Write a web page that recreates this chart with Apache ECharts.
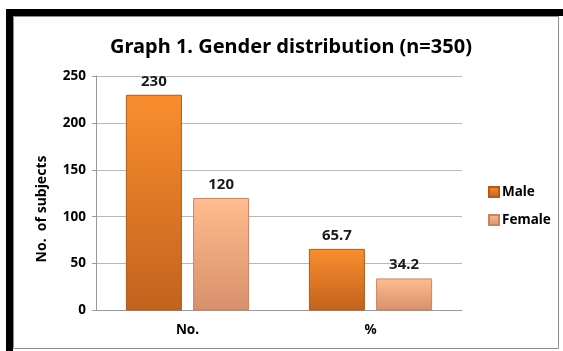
<!DOCTYPE html>
<html><head><meta charset="utf-8">
<script src="https://cdn.jsdelivr.net/npm/echarts@6/dist/echarts.min.js"></script>
<style>html,body{margin:0;padding:0;background:#fff}#c{width:563px;height:351px}</style>
</head><body><div id="c"></div>
<script>
const categories = ['No.', '%'];
const maleValues = [230, 65.7];
const femaleValues = [120, 34.2];
const seriesNames = ['Male', 'Female'];
const titleText = 'Graph 1. Gender distribution (n=350)';
const yAxisName = 'No.  of subjects';

const FONT = 'Noto Sans';
const chart = echarts.init(document.getElementById('c'), null, {renderer: 'canvas'});
const maleGrad = new echarts.graphic.LinearGradient(0,0,0,1,[{offset:0,color:'#FA8E2E'},{offset:1,color:'#C2621D'}]);
const femaleGrad = new echarts.graphic.LinearGradient(0,0,0,1,[{offset:0,color:'#FFBC8E'},{offset:1,color:'#D8906C'}]);
const labelStyle = {show:true, position:'top', distance:6, fontFamily:FONT, fontWeight:'bold', fontSize:15, color:'#1a1a1a'};
chart.setOption({
  animation:false,
  graphic:[
    {type:'rect', shape:{x:6,y:9,width:557,height:7}, style:{fill:'#000'}, z:-10},
    {type:'rect', shape:{x:6,y:9,width:7,height:342}, style:{fill:'#000'}, z:-10},
    {type:'rect', shape:{x:13.5,y:16.5,width:545,height:332}, style:{fill:'#fff', stroke:'#8c8c8c', lineWidth:1}, z:-9},
    {type:'text', x:42, y:209, rotation:Math.PI/2, style:{text:yAxisName, fontFamily:FONT, fontWeight:'bold', fontSize:14, fill:'#000', align:'center', verticalAlign:'middle'}}
  ],
  title:{text:titleText, left:286, top:32, textAlign:'center', textStyle:{fontFamily:FONT, fontWeight:'bold', fontSize:20, color:'#000'}},
  legend:{orient:'vertical', left:483, top:180, itemWidth:10, itemHeight:10, itemGap:14, icon:'rect',
    textStyle:{fontFamily:FONT, fontWeight:'bold', fontSize:13.5, color:'#000', padding:[0,0,0,-2]}, data:seriesNames},
  grid:{left:96, right:101, top:76, bottom:40.5, containLabel:false},
  xAxis:{type:'category', data:categories, axisLine:{lineStyle:{color:'#999'}}, axisTick:{show:false},
    axisLabel:{fontFamily:FONT, fontWeight:'bold', fontSize:13.5, color:'#000', margin:13}},
  yAxis:{type:'value', min:0, max:250, interval:50,
    axisLine:{show:true, lineStyle:{color:'#999'}}, axisTick:{show:true, length:4, lineStyle:{color:'#999'}},
    splitLine:{lineStyle:{color:'#b8b8b8'}},
    axisLabel:{fontFamily:FONT, fontWeight:'bold', fontSize:13.5, color:'#000', margin:10}},
  series:[
    {name:seriesNames[0], type:'bar', data:maleValues, barWidth:56, barGap:'20%',
      itemStyle:{color:maleGrad, borderColor:'#B5581A', borderWidth:1}, label:labelStyle},
    {name:seriesNames[1], type:'bar', data:femaleValues, barWidth:56,
      itemStyle:{color:femaleGrad, borderColor:'#C98562', borderWidth:1}, label:labelStyle}
  ]
});
</script></body></html>
